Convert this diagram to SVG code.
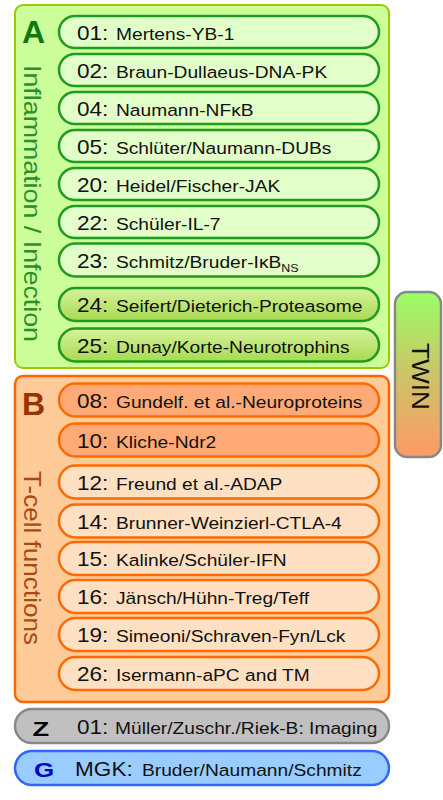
<svg xmlns="http://www.w3.org/2000/svg" width="443" height="800" viewBox="0 0 443 800">
<defs>
<linearGradient id="gGreen" x1="0" y1="0" x2="0" y2="1"><stop offset="0" stop-color="#d6f29c"/><stop offset="1" stop-color="#a9da50"/></linearGradient>
<linearGradient id="gTwin" x1="0" y1="0" x2="0" y2="1"><stop offset="0" stop-color="#99ff66"/><stop offset="0.5" stop-color="#cdc466"/><stop offset="1" stop-color="#ff9966"/></linearGradient>
<style>
text{font-family:"Liberation Sans",Arial,sans-serif;fill:#111}
.n{font-size:20px}
.m{font-size:17px}
.sub{font-size:11px}
.pg{fill:#e2ffca;stroke:#1f9b1f;stroke-width:2.5}
.pgd{fill:url(#gGreen);stroke:#1f9b1f;stroke-width:2.5}
.po{fill:#ffe0c2;stroke:#ff6a00;stroke-width:2.5}
.pod{fill:#ffaa77;stroke:#ff6a00;stroke-width:2.5}
.big{font-weight:bold;font-size:32px}
.vert{font-size:24px}
</style>
</defs>

<g id="groupA">
<rect x="15" y="5" width="374" height="363" rx="8" fill="#ccff99" stroke="#99cc00" stroke-width="2"/>
<text class="big" x="22" y="43" style="fill:#117711">A</text>
<text class="vert" transform="translate(23.5,65) rotate(90)" textLength="277" lengthAdjust="spacingAndGlyphs" style="fill:#2a8f2a">Inflammation / Infection</text>
</g>

<g id="a01"><rect class="pg" x="59" y="16" width="320" height="32" rx="16"/><text transform="translate(77,39.5) scale(1.13,1)"><tspan class="n">01:</tspan><tspan class="m" x="34.5">Mertens-YB-1</tspan></text></g>
<g id="a02"><rect class="pg" x="59" y="54" width="320" height="32" rx="16"/><text transform="translate(77,77.5) scale(1.13,1)"><tspan class="n">02:</tspan><tspan class="m" x="34.5">Braun-Dullaeus-DNA-PK</tspan></text></g>
<g id="a04"><rect class="pg" x="59" y="92" width="320" height="32" rx="16"/><text transform="translate(77,115.5) scale(1.13,1)"><tspan class="n">04:</tspan><tspan class="m" x="34.5">Naumann-NFκB</tspan></text></g>
<g id="a05"><rect class="pg" x="59" y="130" width="320" height="32" rx="16"/><text transform="translate(77,153.5) scale(1.13,1)"><tspan class="n">05:</tspan><tspan class="m" x="34.5">Schlüter/Naumann-DUBs</tspan></text></g>
<g id="a20"><rect class="pg" x="59" y="168" width="320" height="32" rx="16"/><text transform="translate(77,191.5) scale(1.13,1)"><tspan class="n">20:</tspan><tspan class="m" x="34.5">Heidel/Fischer-JAK</tspan></text></g>
<g id="a22"><rect class="pg" x="59" y="206" width="320" height="32" rx="16"/><text transform="translate(77,229.5) scale(1.13,1)"><tspan class="n">22:</tspan><tspan class="m" x="34.5">Schüler-IL-7</tspan></text></g>
<g id="a23"><rect class="pg" x="59" y="243.5" width="320" height="33" rx="16.5"/><text transform="translate(77,267.5) scale(1.13,1)"><tspan class="n">23:</tspan><tspan class="m" x="34.5">Schmitz/Bruder-IκB</tspan><tspan class="sub" dy="4">NS</tspan></text></g>
<g id="a24"><rect class="pgd" x="59" y="288" width="320" height="33" rx="16.5"/><text transform="translate(77,312) scale(1.13,1)"><tspan class="n">24:</tspan><tspan class="m" x="34.5">Seifert/Dieterich-Proteasome</tspan></text></g>
<g id="a25"><rect class="pgd" x="59" y="328.5" width="320" height="33" rx="16.5"/><text transform="translate(77,352.5) scale(1.13,1)"><tspan class="n">25:</tspan><tspan class="m" x="34.5">Dunay/Korte-Neurotrophins</tspan></text></g>

<g id="groupB">
<rect x="15" y="376" width="374" height="326" rx="8" fill="#ffcc99" stroke="#ff6600" stroke-width="2.5"/>
<text class="big" x="22" y="415" style="fill:#993300">B</text>
<text class="vert" transform="translate(23.5,471) rotate(90)" textLength="174" lengthAdjust="spacingAndGlyphs" style="fill:#a84a10">T-cell functions</text>
</g>

<g id="b08"><rect class="pod" x="59" y="383.5" width="320" height="33" rx="16.5"/><text transform="translate(77,407.5) scale(1.13,1)"><tspan class="n">08:</tspan><tspan class="m" x="34.5">Gundelf. et al.-Neuroproteins</tspan></text></g>
<g id="b10"><rect class="pod" x="59" y="423.5" width="320" height="33" rx="16.5"/><text transform="translate(77,447.5) scale(1.13,1)"><tspan class="n">10:</tspan><tspan class="m" x="34.5">Kliche-Ndr2</tspan></text></g>
<g id="b12"><rect class="po" x="59" y="465.5" width="320" height="33" rx="16.5"/><text transform="translate(77,489.5) scale(1.13,1)"><tspan class="n">12:</tspan><tspan class="m" x="34.5">Freund et al.-ADAP</tspan></text></g>
<g id="b14"><rect class="po" x="59" y="504.5" width="320" height="33" rx="16.5"/><text transform="translate(77,528.5) scale(1.13,1)"><tspan class="n">14:</tspan><tspan class="m" x="34.5">Brunner-Weinzierl-CTLA-4</tspan></text></g>
<g id="b15"><rect class="po" x="59" y="542" width="320" height="33" rx="16.5"/><text transform="translate(77,566) scale(1.13,1)"><tspan class="n">15:</tspan><tspan class="m" x="34.5">Kalinke/Schüler-IFN</tspan></text></g>
<g id="b16"><rect class="po" x="59" y="580" width="320" height="33" rx="16.5"/><text transform="translate(77,604) scale(1.13,1)"><tspan class="n">16:</tspan><tspan class="m" x="34.5">Jänsch/Hühn-Treg/Teff</tspan></text></g>
<g id="b19"><rect class="po" x="59" y="618" width="320" height="33" rx="16.5"/><text transform="translate(77,642) scale(1.13,1)"><tspan class="n">19:</tspan><tspan class="m" x="34.5">Simeoni/Schraven-Fyn/Lck</tspan></text></g>
<g id="b26"><rect class="po" x="59" y="657" width="320" height="33" rx="16.5"/><text transform="translate(77,681) scale(1.13,1)"><tspan class="n">26:</tspan><tspan class="m" x="34.5">Isermann-aPC and TM</tspan></text></g>

<g id="z01">
<rect x="15" y="709" width="374" height="34" rx="17" fill="#c0c0c0" stroke="#888888" stroke-width="2.5"/>
<text transform="translate(32.5,735.5) scale(1.3,1)" style="font-weight:bold;font-size:21px;fill:#000">Z</text>
<text transform="translate(77,733.5) scale(1.13,1)"><tspan class="n">01:</tspan><tspan class="m" x="33.6">Müller/Zuschr./Riek-B: Imaging</tspan></text>
</g>

<g id="gMGK">
<rect x="15" y="751" width="374" height="34" rx="17" fill="#99ccff" stroke="#3366ff" stroke-width="2.5"/>
<text transform="translate(34,777) scale(1.3,1)" style="font-weight:bold;font-size:20px;fill:#0000cc">G</text>
<text transform="translate(75,775.5) scale(1.13,1)"><tspan class="n">MGK:</tspan><tspan class="m" x="59.3">Bruder/Naumann/Schmitz</tspan></text>
</g>

<g id="twin">
<rect x="395" y="292" width="46" height="165" rx="12" fill="url(#gTwin)" stroke="#888888" stroke-width="2.5"/>
<text class="vert" transform="translate(412,343) rotate(90)" textLength="67" lengthAdjust="spacingAndGlyphs">TWIN</text>
</g>

<g id="connectors"/>
</svg>
